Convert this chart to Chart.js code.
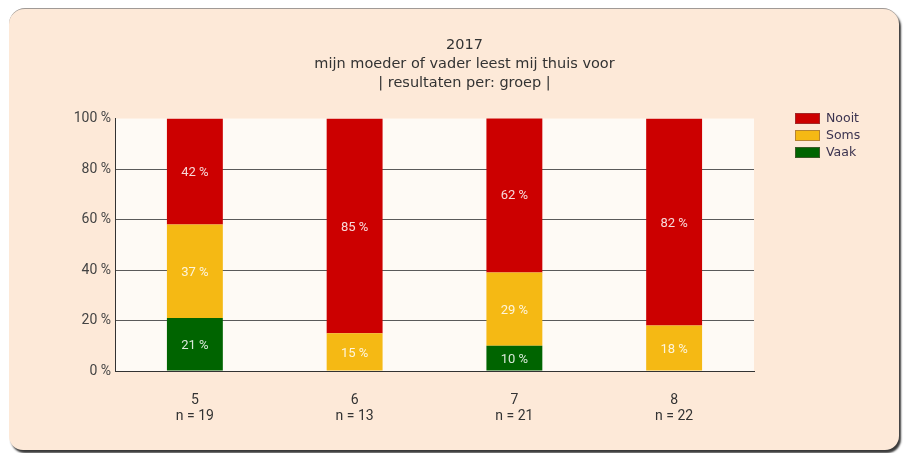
<!DOCTYPE html>
<html>
<head>
<meta charset="utf-8">
<script src="https://cdn.jsdelivr.net/npm/chart.js@4"></script>
<style>
  html, body { margin: 0; padding: 0; background: #fff; }
  body { width: 906px; height: 453px; position: relative; overflow: hidden; }
  #panel {
    position: absolute; left: 9px; top: 8px; width: 890px; height: 441px;
    background: #fde9d8; border-radius: 16px 16px 14px 14px;
    border-top: 1px solid #a09a96;
    box-shadow: 2px 3px 2px #3a3a3a;
  }
  #wrap { position: absolute; left: 29px; top: 0; width: 871px; height: 453px; }
</style>
</head>
<body>
<div id="panel"></div>
<div id="wrap"><canvas id="c" width="871" height="453"></canvas></div>
<script>
// data
const groups = ['5', '6', '7', '8'];
const counts = [19, 13, 21, 22];
const vaak = [21, 0, 10, 0];
const soms = [37, 15, 29, 18];
const nooit = [42, 85, 62, 82];
const yTicks = [0, 20, 40, 60, 80, 100];
const titleLines = ['2017', 'mijn moeder of vader leest mij thuis voor', '| resultaten per: groep |'];

const RED = '#cc0000';
const YELLOW = '#f5b914';
const GREEN = '#006400';
const TICK_FONT = { family: 'Roboto, sans-serif', size: 14 };

// plot background
const plotBg = {
  id: 'plotBg',
  beforeDraw(chart) {
    const { ctx, chartArea: a } = chart;
    ctx.save();
    ctx.fillStyle = '#fefaf5';
    ctx.fillRect(a.left, a.top, a.right - a.left, a.bottom - a.top);
    ctx.restore();
  },
};

// value labels inside segments
const segLabels = {
  id: 'segLabels',
  afterDatasetsDraw(chart) {
    const { ctx } = chart;
    ctx.save();
    ctx.font = '13px Roboto, sans-serif';
    ctx.fillStyle = 'rgba(255,255,255,0.85)';
    ctx.textAlign = 'center';
    ctx.textBaseline = 'middle';
    chart.data.datasets.forEach((ds, di) => {
      const meta = chart.getDatasetMeta(di);
      meta.data.forEach((bar, i) => {
        const v = ds.data[i];
        if (!v) return;
        const y = (bar.y + bar.base) / 2;
        ctx.fillText(v + ' %', bar.x, y + 1.5);
      });
    });
    ctx.restore();
  },
};

// legend on the right, top-down order Nooit, Soms, Vaak
const sideLegend = {
  id: 'sideLegend',
  afterDraw(chart) {
    const { ctx } = chart;
    const items = chart.data.datasets.slice().reverse();
    ctx.save();
    ctx.font = '12.5px "DejaVu Sans", sans-serif';
    ctx.textBaseline = 'middle';
    items.forEach((ds, k) => {
      const x = chart.chartArea.right + 41, y = 113 + k * 17;
      ctx.fillStyle = ds.backgroundColor;
      ctx.fillRect(x, y, 25, 11);
      ctx.strokeStyle = 'rgba(120,80,80,0.5)';
      ctx.lineWidth = 1;
      ctx.strokeRect(x + 0.5, y + 0.5, 24, 10);
      ctx.fillStyle = '#3c3450';
      ctx.fillText(ds.label, x + 31, y + 6);
    });
    ctx.restore();
  },
};

new Chart(document.getElementById('c'), {
  type: 'bar',
  data: {
    labels: groups.map((g, i) => [g, 'n = ' + counts[i]]),
    datasets: [
      { label: 'Vaak', data: vaak, backgroundColor: GREEN },
      { label: 'Soms', data: soms, backgroundColor: YELLOW },
      { label: 'Nooit', data: nooit, backgroundColor: RED },
    ].map((d) => ({ ...d, barPercentage: 0.35, categoryPercentage: 1 })),
  },
  options: {
    responsive: false,
    animation: false,
    layout: { padding: { top: 0, right: 0, bottom: 22, left: 0 } },
    plugins: {
      legend: { display: false },
      tooltip: { enabled: false },
      title: {
        display: true,
        text: titleLines,
        color: '#333',
        font: { family: '"DejaVu Sans", sans-serif', size: 14.5, weight: 'normal', lineHeight: 1.3 },
        padding: { top: 36, bottom: 26 },
      },
    },
    scales: {
      x: {
        stacked: true,
        grid: { display: false },
        border: { display: true, color: '#333', width: 1 },
        ticks: { color: '#333', font: { ...TICK_FONT, lineHeight: 1.17 }, padding: 13 },
        afterFit: (s) => { s.height = 60; },
      },
      y: {
        stacked: true,
        min: 0,
        max: 100,
        afterBuildTicks: (s) => { s.ticks = yTicks.map((v) => ({ value: v })); },
        afterFit: (s) => { s.width = 86; },
        grid: {
          color: (c) => (c.tick && (c.tick.value === 0 || c.tick.value === 100) ? 'rgba(0,0,0,0)' : '#5a5a5a'),
          drawTicks: false,
        },
        border: { display: true, color: '#333', width: 1 },
        ticks: { color: '#444', font: TICK_FONT, padding: 4, callback: (v) => v + ' %' },
      },
      // empty right-hand strip that keeps room for the legend
      side: {
        type: 'linear',
        position: 'right',
        grid: { display: false },
        border: { display: false },
        ticks: { display: false },
        afterFit: (s) => { s.width = 146; },
      },
    },
  },
  plugins: [plotBg, segLabels, sideLegend],
});
</script>
</body>
</html>
